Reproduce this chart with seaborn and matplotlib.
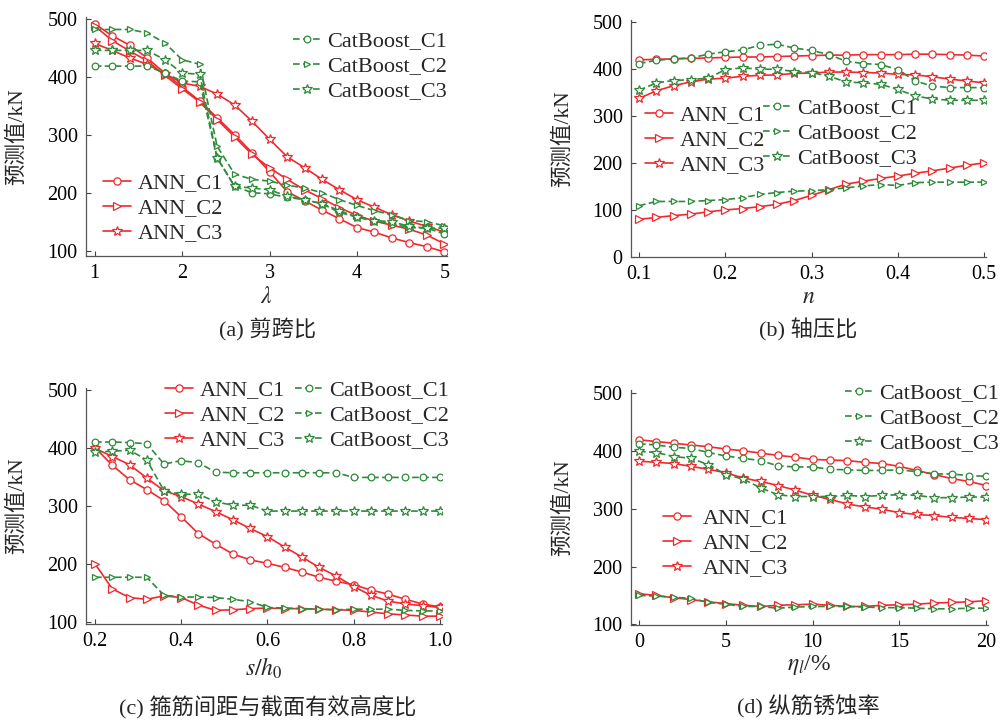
import numpy as np
import pandas as pd
import matplotlib
matplotlib.use("Agg")
import matplotlib.pyplot as plt
import seaborn as sns

# ---------------- data ----------------
x_a = [1.0, 1.2, 1.4, 1.6, 1.8, 2.0, 2.2, 2.4, 2.6, 2.8, 3.0, 3.2, 3.4, 3.6, 3.8, 4.0, 4.2, 4.4, 4.6, 4.8, 5.0]
a_ann_c1 = [492, 471, 455, 433, 407, 383, 359, 330, 301, 270, 237, 203, 187, 171, 156, 141, 133, 123, 115, 108, 99]
a_ann_c2 = [488, 463, 445, 428, 403, 380, 357, 327, 297, 267, 244, 224, 206, 191, 175, 162, 152, 145, 138, 128, 113]
a_ann_c3 = [458, 446, 433, 422, 406, 390, 384, 371, 352, 324, 293, 263, 244, 224, 206, 189, 176, 163, 152, 143, 133]
a_cb_c1 = [419, 419, 419, 419, 407, 393, 392, 261, 212, 201, 199, 193, 189, 182, 167, 159, 152, 147, 141, 140, 130]
a_cb_c2 = [482, 482, 482, 476, 459, 430, 422, 281, 233, 224, 221, 214, 209, 201, 189, 179, 170, 163, 153, 151, 144]
a_cb_c3 = [446, 446, 446, 446, 430, 407, 405, 261, 212, 209, 206, 195, 189, 182, 170, 159, 153, 151, 143, 140, 140]

x_b = [0.10, 0.12, 0.14, 0.16, 0.18, 0.20, 0.22, 0.24, 0.26, 0.28, 0.30, 0.32, 0.34, 0.36, 0.38, 0.40, 0.42, 0.44, 0.46, 0.48, 0.50]
b_ann_c1 = [419, 420, 421, 422, 423, 424, 425, 425, 426, 427, 428, 429, 429, 430, 430, 430, 431, 431, 430, 429, 427]
b_ann_c2 = [80, 84, 88, 91, 96, 100, 103, 107, 112, 120, 131, 143, 155, 161, 167, 172, 178, 183, 189, 195, 200]
b_ann_c3 = [337, 353, 364, 372, 378, 380, 384, 386, 387, 390, 391, 393, 393, 392, 391, 388, 387, 383, 378, 374, 370]
b_cb_c1 = [411, 418, 421, 423, 431, 436, 440, 450, 452, 444, 439, 430, 416, 411, 409, 398, 374, 363, 360, 360, 360]
b_cb_c2 = [109, 118, 118, 118, 120, 122, 126, 133, 137, 140, 141, 143, 147, 151, 154, 152, 158, 159, 159, 159, 159]
b_cb_c3 = [354, 370, 375, 377, 380, 398, 402, 399, 399, 394, 392, 384, 372, 370, 367, 356, 342, 336, 333, 333, 333]

x_c = [0.20, 0.24, 0.28, 0.32, 0.36, 0.40, 0.44, 0.48, 0.52, 0.56, 0.60, 0.64, 0.68, 0.72, 0.76, 0.80, 0.84, 0.88, 0.92, 0.96, 1.00]
c_ann_c1 = [400, 370, 345, 328, 309, 281, 252, 234, 217, 207, 201, 194, 186, 177, 170, 164, 155, 148, 139, 131, 126]
c_ann_c2 = [200, 157, 142, 139, 145, 142, 129, 120, 121, 123, 124, 123, 123, 122, 121, 120, 117, 114, 112, 110, 110]
c_ann_c3 = [399, 385, 371, 348, 326, 316, 303, 290, 276, 261, 247, 229, 212, 194, 179, 161, 146, 136, 131, 128, 125]
c_cb_c1 = [410, 410, 409, 407, 372, 378, 374, 358, 357, 357, 357, 357, 357, 357, 357, 349, 349, 349, 349, 349, 349]
c_cb_c2 = [177, 177, 177, 177, 146, 143, 143, 142, 139, 135, 125, 124, 123, 122, 121, 122, 122, 122, 120, 119, 119]
c_cb_c3 = [393, 394, 396, 379, 326, 320, 320, 307, 301, 301, 291, 291, 291, 291, 291, 291, 291, 291, 291, 291, 291]

x_d = list(range(0, 21))
d_ann_c1 = [419, 416, 413, 410, 407, 403, 400, 396, 392, 389, 385, 384, 383, 380, 378, 373, 366, 359, 352, 347, 340]
d_ann_c2 = [153, 150, 146, 143, 139, 136, 133, 131, 133, 134, 135, 133, 131, 131, 133, 134, 135, 137, 138, 139, 141]
d_ann_c3 = [382, 380, 378, 373, 368, 362, 353, 347, 340, 332, 323, 316, 308, 303, 299, 293, 290, 288, 285, 283, 281]
d_cb_c1 = [412, 410, 406, 404, 397, 391, 387, 383, 374, 372, 372, 368, 367, 366, 366, 367, 364, 360, 360, 357, 356]
d_cb_c2 = [150, 149, 147, 145, 138, 135, 131, 131, 128, 130, 131, 131, 131, 130, 129, 129, 128, 127, 127, 128, 128]
d_cb_c3 = [399, 397, 390, 387, 376, 359, 351, 336, 324, 321, 321, 321, 323, 321, 323, 324, 323, 319, 319, 320, 320]

series_names = ["ANN_C1", "ANN_C2", "ANN_C3", "CatBoost_C1", "CatBoost_C2", "CatBoost_C3"]
captions = ["(a) 剪跨比", "(b) 轴压比", "(c) 箍筋间距与截面有效高度比", "(d) 纵筋锈蚀率"]
xlabels = [r"$\lambda$", r"$n$", r"$s/h_0$", r"$\eta_l$/%"]
ylabel = "预测值/kN"

# ---------------- style ----------------
sns.set_style("ticks")
plt.rcParams["font.family"] = ["Liberation Serif", "Noto Sans CJK SC"]
plt.rcParams["mathtext.fontset"] = "stix"
plt.rcParams["axes.unicode_minus"] = False

RED = "#EE2A2E"
GREEN = "#2E8B3A"
markers = ["o", ">", "*", "o", ">", "*"]
colors = [RED, RED, RED, GREEN, GREEN, GREEN]
msizes = [5.2, 5.2, 7.5, 4.8, 4.8, 7.0]

W, H = 1004, 720
fig = plt.figure(figsize=(W / 100, H / 100), dpi=100)

boxes = [(86, 17, 447, 256), (631, 20, 986, 257), (86, 388, 442, 624), (631, 390, 988, 625)]


def ax_at(l, t, r, b):
    return fig.add_axes([l / W, 1 - b / H, (r - l) / W, (b - t) / H])


axes = [ax_at(*b) for b in boxes]

panels = [
    (x_a, [a_ann_c1, a_ann_c2, a_ann_c3, a_cb_c1, a_cb_c2, a_cb_c3]),
    (x_b, [b_ann_c1, b_ann_c2, b_ann_c3, b_cb_c1, b_cb_c2, b_cb_c3]),
    (x_c, [c_ann_c1, c_ann_c2, c_ann_c3, c_cb_c1, c_cb_c2, c_cb_c3]),
    (x_d, [d_ann_c1, d_ann_c2, d_ann_c3, d_cb_c1, d_cb_c2, d_cb_c3]),
]

xlims = [(0.9, 5.03), (0.0907, 0.502), (0.179, 1.005), (-0.46, 20.1)]
ylims = [(92, 503.5), (0, 503.6), (96.5, 503), (99, 505)]
xticks = [[1, 2, 3, 4, 5], [0.1, 0.2, 0.3, 0.4, 0.5], [0.2, 0.4, 0.6, 0.8, 1.0], [0, 5, 10, 15, 20]]
xticklabels = [["1", "2", "3", "4", "5"], ["0.1", "0.2", "0.3", "0.4", "0.5"],
               ["0.2", "0.4", "0.6", "0.8", "1.0"], ["0", "5", "10", "15", "20"]]
yticks = [[100, 200, 300, 400, 500], [0, 100, 200, 300, 400, 500],
          [100, 200, 300, 400, 500], [100, 200, 300, 400, 500]]

# legend anchors (pixel coords of top-left): (ANN, CatBoost)
leg_pos = [((103, 173), (293, 31)), ((645, 105), (763, 98)),
           ((165, 380), (295, 380)), ((663, 508), (845, 383))]
ann_pad = [0.3, 0.3, 0.3, 0.55]
ylabel_x = [17, 563, 17, 563]
xlabel_y = [297, 297, 668, 665]

LEG_FS = 16
for i, ax in enumerate(axes):
    xs, ys_list = panels[i]
    for j, ys in enumerate(ys_list):
        df = pd.DataFrame({"x": xs, "y": ys})
        sns.lineplot(data=df, x="x", y="y", ax=ax, color=colors[j], marker=markers[j],
                     markersize=msizes[j], markerfacecolor="white", markeredgecolor=colors[j],
                     markeredgewidth=0.9, linewidth=1.2, label=series_names[j],
                     legend=False, errorbar=None, sort=False)
        line = ax.lines[-1]
        if j >= 3:
            line.set_linestyle((0, (4, 2)))
    ax.set_xlim(*xlims[i])
    ax.set_ylim(*ylims[i])
    ax.set_xticks(xticks[i])
    ax.set_xticklabels(xticklabels[i])
    ax.set_yticks(yticks[i])
    ax.tick_params(direction="in", length=3.5, width=0.8, labelsize=14.5, pad=6, colors="#444444",
                   labelcolor="black")
    for s in ["top", "right"]:
        ax.spines[s].set_visible(False)
    for s in ["left", "bottom"]:
        ax.spines[s].set_color("#555555")
        ax.spines[s].set_linewidth(0.9)

    l, t, r, b = boxes[i]
    ax.set_xlabel(xlabels[i], fontsize=17)
    ax.xaxis.label.set_va("center")
    ax.xaxis.set_label_coords(0.5, (b - xlabel_y[i]) / (b - t))
    ax.set_ylabel(ylabel, fontsize=15.5)
    ax.yaxis.label.set_va("center")
    ax.yaxis.set_label_coords((ylabel_x[i] - l) / (r - l), 0.5)

    lines = ax.lines
    (ax_x, ax_y), (cb_x, cb_y) = leg_pos[i]
    common = dict(frameon=False, fontsize=LEG_FS, handlelength=1.25,
                  labelspacing=0.2, borderpad=0, borderaxespad=0, loc="upper left",
                  bbox_transform=fig.transFigure)
    leg1 = ax.legend(lines[:3], series_names[:3], bbox_to_anchor=(ax_x / W, 1 - ax_y / H),
                     handletextpad=ann_pad[i], **common)
    ax.add_artist(leg1)
    ax.legend(lines[3:], series_names[3:], bbox_to_anchor=(cb_x / W, 1 - cb_y / H),
              handletextpad=0.3, **common)

cap_pos = [(268, 330), (808, 330), (268, 707), (808, 707)]
for (cx, cy), cap in zip(cap_pos, captions):
    fig.text(cx / W, 1 - cy / H, cap, ha="center", va="center", fontsize=16)

fig.savefig("out.png", dpi=100)
